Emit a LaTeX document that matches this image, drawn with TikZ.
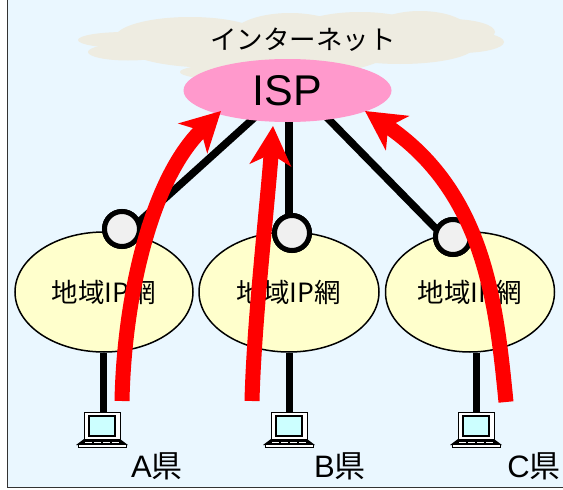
\documentclass[tikz,border=0pt]{standalone}
\usepackage{fontspec}
\setmainfont{Liberation Sans}
\newfontfamily\jp{Noto Sans CJK JP}
\usetikzlibrary{shapes.geometric,arrows.meta}
\definecolor{skyb}{HTML}{EAF7FF}
\definecolor{cloudc}{HTML}{EEECE1}
\definecolor{ispc}{HTML}{FF99CC}
\definecolor{netc}{HTML}{FFFFCC}
\definecolor{routerc}{HTML}{F0F0F0}
\definecolor{screenc}{HTML}{CCFFFF}
\tikzset{x=1pt,y=-1pt,
  netw/.style={ellipse,draw=black,line width=1.5pt,fill=netc,inner sep=0pt,font=\fontsize{26.5}{26.5}\selectfont},
  router/.style={circle,draw=black,line width=5pt,fill=routerc,minimum size=35pt,inner sep=0pt},
  link/.style={line width=7.5pt,black},
  redarrow/.style={line width=15pt,red,-{Stealth[length=39pt,width=41pt,inset=11pt]}},
  place/.style={font=\fontsize{31}{31}\selectfont,inner sep=0pt},
  cloudp/.style={fill=cloudc,draw=none},
  laptop/.pic={
    \draw[fill=white,line width=1pt] (-18,-18) rectangle (18,9);
    \draw[fill=screenc,line width=1.2pt] (-13,-14) rectangle (13,6);
    \fill (-26,15) -- (-18,9) -- (18,9) -- (26,15) -- cycle;
    \draw[white,line width=.8pt,dash pattern=on 7pt off 2pt] (-17,12) -- (17,12);
    \draw[fill=white,line width=1pt] (-24,14) rectangle (24,17.5);
  }
}
\begin{document}
\begin{tikzpicture}
\useasboundingbox (0,0) rectangle (563,490);
\fill[white] (0,0) rectangle (563,490);
\fill[skyb] (7,0) rectangle (563,487);
\draw[black!80,line width=1.5pt] (7.5,0) -- (7.5,487.5) -- (563,487.5);
% cloud
\fill[cloudp] (125,40) ellipse (47 and 8);
\fill[cloudp] (128,52) ellipse (40 and 8.5);
\fill[cloudp] (190,38) ellipse (75 and 21);
\fill[cloudp] (290,38) ellipse (60 and 25);
\fill[cloudp] (360,35) ellipse (70 and 23);
\fill[cloudp] (420,32) ellipse (50 and 21);
\fill[cloudp] (450,32) ellipse (45 and 13);
\fill[cloudp] (460,42) ellipse (44 and 11);
\fill[cloudp] (400,46) ellipse (75 and 18);
\fill[cloudp] (220,50) ellipse (90 and 18);
\fill[cloudp] (220,72) ellipse (40 and 7);
\fill[cloudp] (290,50) ellipse (100 and 25);
\node[inner sep=0pt,font=\jp\fontsize{26.5}{26.5}\selectfont] (inet) at (303,40) {インターネット};
% networks
\node[netw,minimum width=178pt,minimum height=120pt] (na) at (104,292) {\jp 地域IP網};
\node[netw,minimum width=180pt,minimum height=120pt] (nb) at (289,292) {\jp 地域IP網};
\node[netw,minimum width=169pt,minimum height=120pt] (nc) at (470,292) {\jp 地域IP網};
% ISP
\coordinate (ia) at (285,90);
\coordinate (ib) at (289,90);
\coordinate (ic) at (300,90);
\node[router] (ra) at (122,229) {};
\node[router] (rb) at (292,233) {};
\node[router] (rc) at (453,237) {};
\draw[link] (ia) -- ([xshift=9pt]ra.center);
\draw[link] (ib) -- ([xshift=-3pt]rb.center);
\draw[link] (ic) -- ([yshift=-9pt]rc.center);
\node[router] at (ra) {};
\node[router] at (rb) {};
\node[router] at (rc) {};
\node[ellipse,fill=ispc,minimum width=208pt,minimum height=63pt,inner sep=0pt,font=\fontsize{43}{43}\selectfont] (isp) at (287.5,90.5) {ISP};
% laptops
\pic (la) at (102,430) {laptop};
\pic (lb) at (289,430) {laptop};
\pic (lc) at (476,430) {laptop};
\coordinate (pa) at (103,412);
\coordinate (pb) at (289,412);
\coordinate (pc) at (476,412);
\draw[line width=7pt] ([xshift=-1pt]na.south) -- (pa);
\draw[line width=7pt] (nb.south) -- (pb);
\draw[line width=7pt] ([xshift=6pt]nc.south) -- (pc);
% labels
\node[place] (lA) at (157,466) {A\jp 県};
\node[place] (lB) at (340,466) {B\jp 県};
\node[place] (lC) at (534,466) {C\jp 県};
% red arrows
\coordinate (sa) at (122,401);
\coordinate (sb) at (252,401);
\coordinate (sc) at (506,402);
\coordinate (ta) at (221,111);
\coordinate (tb) at (273,126);
\coordinate (tc) at (365,111);
\draw[redarrow] (sa) .. controls (124,300) and (150,180) .. (ta);
\draw[redarrow] (sb) .. controls (254,320) and (268,200) .. (tb);
\draw[redarrow] (sc) .. controls (496,300) and (484,192) .. (tc);
\end{tikzpicture}
\end{document}
